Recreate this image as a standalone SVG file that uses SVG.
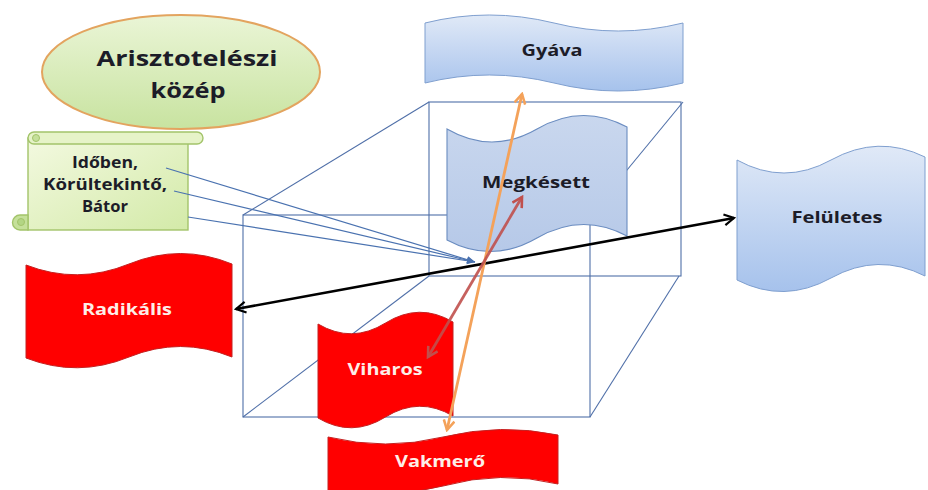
<svg xmlns="http://www.w3.org/2000/svg" width="928" height="490" viewBox="0 0 928 490">
<defs>
<style>
.cube{fill:none;stroke:#4f6fa8;stroke-width:1.1}
.lbl{font-family:"Open Sans","Liberation Sans",sans-serif;font-weight:700;font-size:16px;text-anchor:middle}
.title{font-size:22px}
.dark{fill:#1c1c28}
.light{fill:#fdeee8}
.red{fill:#ff0000;stroke:#c42020;stroke-width:1}
.blue{fill:url(#gBlue);stroke:#7f9fcf;stroke-width:1}
.conn{fill:none;stroke:#4a72b0;stroke-width:1.2}
</style>
<linearGradient id="gBlue" x1="0" y1="0" x2="0" y2="1">
<stop offset="0" stop-color="#e0e9f7"/><stop offset="1" stop-color="#a6c2ec"/>
</linearGradient>
<linearGradient id="gMeg" x1="0" y1="0" x2="0" y2="1">
<stop offset="0" stop-color="#c9d7ee"/><stop offset="1" stop-color="#b6c9e8"/>
</linearGradient>
<linearGradient id="gEll" x1="0" y1="0" x2="0" y2="1">
<stop offset="0" stop-color="#eaf5d6"/><stop offset="1" stop-color="#c8e3a0"/>
</linearGradient>
<linearGradient id="gScroll" x1="0" y1="0" x2="1" y2="1">
<stop offset="0" stop-color="#f3f9e0"/><stop offset="1" stop-color="#d3eaa8"/>
</linearGradient>
<marker id="mBlack" viewBox="0 0 12 12" refX="10" refY="6" markerWidth="13" markerHeight="13" markerUnits="userSpaceOnUse" orient="auto-start-reverse">
<path d="M1,1 L10,6 L1,11" fill="none" stroke="#000" stroke-width="2"/>
</marker>
<marker id="mOrange" viewBox="0 0 12 12" refX="10" refY="6" markerWidth="13" markerHeight="13" markerUnits="userSpaceOnUse" orient="auto-start-reverse">
<path d="M1,1 L10,6 L1,11" fill="none" stroke="#f4a25a" stroke-width="2.4"/>
</marker>
<marker id="mRed" viewBox="0 0 12 12" refX="10" refY="6" markerWidth="13" markerHeight="13" markerUnits="userSpaceOnUse" orient="auto-start-reverse">
<path d="M1,1 L10,6 L1,11" fill="none" stroke="#c0504d" stroke-width="2.4"/>
</marker>
<marker id="mBlue" viewBox="0 0 10 10" refX="9" refY="5" markerWidth="9" markerHeight="9" markerUnits="userSpaceOnUse" orient="auto">
<path d="M0,1 L9,5 L0,9 Z" fill="#4a72b0"/>
</marker>
</defs>
<rect width="928" height="490" fill="#ffffff"/>

<g id="cube">
<rect class="cube" x="429" y="102" width="252" height="174"/>
<rect class="cube" x="243" y="215" width="347" height="202"/>
<line class="cube" x1="429" y1="102" x2="243" y2="215"/>
<line class="cube" x1="683" y1="102" x2="590" y2="215"/>
<line class="cube" x1="429" y1="276" x2="243" y2="417"/>
<line class="cube" x1="679" y1="276" x2="590" y2="417"/>
</g>

<g id="ellipse">
<ellipse cx="181" cy="72" rx="139" ry="57" fill="url(#gEll)" stroke="#e3a45f" stroke-width="2"/>
<text class="lbl title dark" x="187" y="66" textLength="181" lengthAdjust="spacingAndGlyphs">Arisztotelészi</text>
<text class="lbl title dark" x="188" y="98" textLength="75" lengthAdjust="spacingAndGlyphs">közép</text>
</g>

<g id="scroll">
<rect x="28" y="138" width="160" height="92" fill="url(#gScroll)" stroke="#a3c46a" stroke-width="1.4"/>
<rect x="28" y="132" width="175" height="12" rx="6" fill="#e6f3c8" stroke="#a3c46a" stroke-width="1.4"/>
<circle cx="36" cy="138" r="3.5" fill="#c5e09a" stroke="#a3c46a" stroke-width="1"/>
<path d="M28,215 H20 A7.5,7.5 0 0 0 20,230 H28 Z" fill="#c5e09a" stroke="#a3c46a" stroke-width="1.4"/>
<circle cx="21" cy="222" r="3.5" fill="#b3d584" stroke="#a3c46a" stroke-width="1"/>
<text class="lbl dark" x="105" y="168" textLength="66" lengthAdjust="spacingAndGlyphs">Időben,</text>
<text class="lbl dark" x="105" y="190" textLength="124" lengthAdjust="spacingAndGlyphs">Körültekintő,</text>
<text class="lbl dark" x="105" y="212" textLength="46" lengthAdjust="spacingAndGlyphs">Bátor</text>
</g>

<g id="gyava">
<path class="blue" d="M425,23 Q489,7 554,23 Q618,39 683,23 L683,83 Q618,99 554,83 Q489,67 425,83 Z"/>
<text class="lbl dark" x="552" y="56" textLength="61" lengthAdjust="spacingAndGlyphs">Gyáva</text>
</g>

<g id="megkesett">
<path d="M447,129 Q492,155 537,129 Q582,103 627,127 L627,236 Q582,212 537,238 Q492,264 447,240 Z" fill="url(#gMeg)" stroke="#6a8cc0" stroke-width="1.1"/>
<text class="lbl dark" x="536" y="188" textLength="108" lengthAdjust="spacingAndGlyphs">Megkésett</text>
</g>

<g id="feluletes">
<path class="blue" d="M737,160 Q784,186 831,160 Q878,134 925,157 L925,276 Q878,252 831,278 Q784,304 737,280 Z"/>
<text class="lbl dark" x="837" y="223" textLength="91" lengthAdjust="spacingAndGlyphs">Felületes</text>
</g>

<g id="radikalis">
<path class="red" d="M26,265 Q77.5,285 129,264 Q180.5,243 232,264 L232,357 Q180.5,336 129,357 Q77.5,378 26,358 Z"/>
<text class="lbl light" x="127" y="315" textLength="90" lengthAdjust="spacingAndGlyphs">Radikális</text>
</g>

<g id="viharos">
<path class="red" d="M318,324 Q351.75,344 385.5,323 Q419.25,302 453,322 L453,416 Q419.25,396 385.5,417 Q351.75,438 318,418 Z"/>
<text class="lbl light" x="385" y="375" textLength="75" lengthAdjust="spacingAndGlyphs">Viharos</text>
</g>

<g id="vakmero">
<path class="red" d="M328,437 Q385.5,451 443,437 Q500.5,423 558,435 L558,484 Q500.5,470 443,486 Q385.5,500 328,494 Z"/>
<text class="lbl light" x="440" y="467" textLength="90" lengthAdjust="spacingAndGlyphs">Vakmerő</text>
</g>

<g id="connectors">
<line class="conn" x1="166" y1="168" x2="475" y2="262" marker-end="url(#mBlue)"/>
<line class="conn" x1="174" y1="191" x2="475" y2="262" marker-end="url(#mBlue)"/>
<line class="conn" x1="188" y1="217" x2="475" y2="262" marker-end="url(#mBlue)"/>
<line x1="236" y1="309" x2="734" y2="218" stroke="#000" stroke-width="2.6" marker-start="url(#mBlack)" marker-end="url(#mBlack)"/>
<line x1="447" y1="430" x2="522" y2="94" stroke="#f4a25a" stroke-width="2.8" marker-start="url(#mOrange)" marker-end="url(#mOrange)"/>
<line x1="428" y1="357" x2="522" y2="197" stroke="#c0504d" stroke-width="2.8" stroke-opacity="0.9" marker-start="url(#mRed)" marker-end="url(#mRed)"/>
</g>
</svg>
